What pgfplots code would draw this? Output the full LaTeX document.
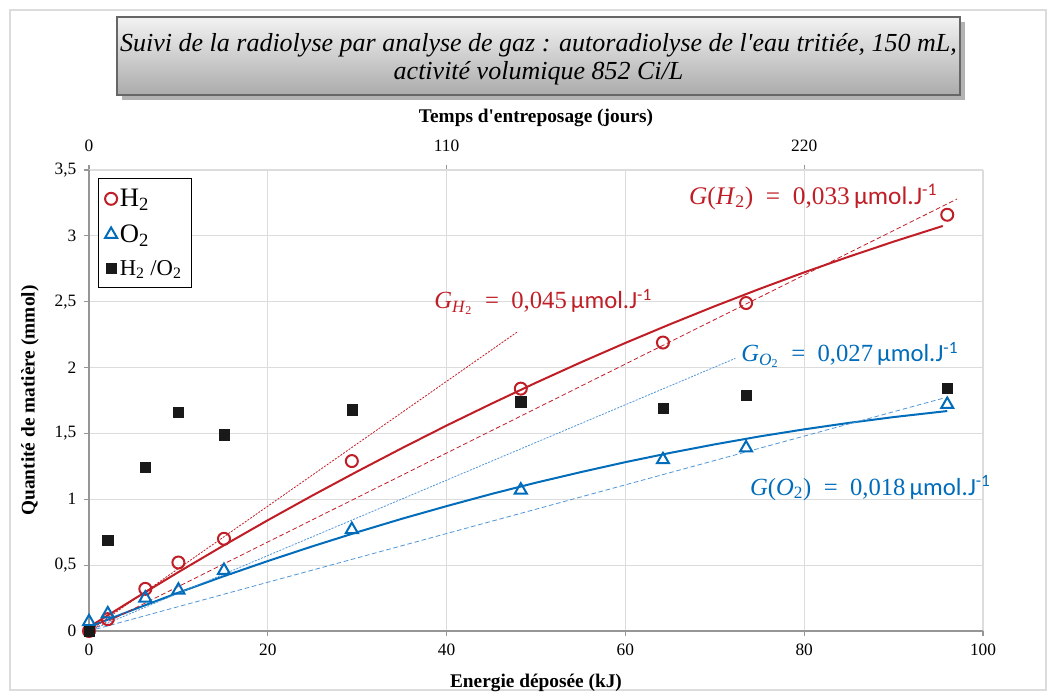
\documentclass[border=0pt]{standalone}
\usepackage{fontspec}
\setmainfont{Liberation Serif}
\newfontfamily\calibri{Carlito}
\usepackage{pgfplots}
\pgfplotsset{compat=1.18}

\definecolor{h2red}{RGB}{192,30,38}
\definecolor{o2blue}{RGB}{0,108,186}
\definecolor{o2light}{RGB}{80,150,215}
\definecolor{gridgray}{RGB}{220,220,220}
\definecolor{axgray}{RGB}{150,150,150}

\newcommand{\unitmu}{{\calibri\,µmol.J\textsuperscript{-1}}}
\newcommand{\gtext}[2]{{\itshape G}#1\enspace=\enspace#2\unitmu}

\begin{document}
\begin{tikzpicture}
% page frame, title box (1 px = 0.75 pt, origin = axis corner)
\begin{scope}[x=0.75pt,y=0.75pt]
\useasboundingbox (-89,-67) rectangle (968,631);
\draw[gridgray, line width=0.8pt] (-79,-59) rectangle (957,621);
\fill[black!30] (33,531) rectangle (876,609);
\shade[top color=white!95!black, bottom color=black!33] (28,536) rectangle (871,614);
\draw[black!60, line width=0.8pt] (28,536) rectangle (871,614);
\node[align=center, font=\itshape\fontsize{19.5}{21}\selectfont] at (449.5,572)
  {Suivi de la radiolyse par analyse de gaz : autoradiolyse de l\textquotesingle eau tritiée, 150 mL,\\
   activité volumique 852 Ci/L};
\end{scope}

% top axis: storage time
\begin{axis}[
  scale only axis, width=670.5pt, height=345.75pt,
  xmin=0, xmax=275, ymin=0, ymax=3.5,
  axis x line*=top, hide y axis,
  xtick={0,110,220},
  axis line style={axgray, line width=0.8pt},
  tick style={axgray, line width=0.8pt}, major tick length=4pt, tick align=outside,
  /pgf/number format/assume math mode=true,
  ticklabel style={font=\fontsize{13}{13}\selectfont},
  xticklabel style={yshift=6pt},
  xlabel={\textbf{Temps d\textquotesingle entreposage (jours)}},
  xlabel style={font=\fontsize{14.5}{15}\selectfont, at={(axis description cs:0.5,1.1128)}, anchor=center},
]
\end{axis}

\begin{axis}[
  scale only axis, width=670.5pt, height=345.75pt,
  xmin=0, xmax=100, ymin=0, ymax=3.5,
  axis x line*=bottom, axis y line*=left,
  xtick={0,20,40,60,80,100},
  ytick={0,0.5,1,1.5,2,2.5,3,3.5},
  grid=major, major grid style={gridgray, line width=0.8pt},
  axis line style={axgray, line width=0.8pt},
  tick style={axgray, line width=0.8pt}, major tick length=4pt, tick align=outside,
  /pgf/number format/use comma,
  /pgf/number format/assume math mode=true,
  ticklabel style={font=\fontsize{13}{13}\selectfont},
  yticklabel style={xshift=-2pt},
  xticklabel style={yshift=-2pt},
  xlabel={\textbf{Energie déposée (kJ)}},
  ylabel={\textbf{Quantité de matière (mmol)}},
  xlabel style={font=\fontsize{14.5}{15}\selectfont, at={(axis description cs:0.5,-0.1128)}, anchor=center},
  ylabel style={font=\fontsize{14.5}{15}\selectfont, at={(axis description cs:-0.066,0.5)}, anchor=center},
  clip=false,
  legend cell align=left,
  legend style={at={(axis description cs:0.0101,0.9826)}, anchor=north west,
    draw=black, line width=0.6pt, fill=white, inner xsep=5pt, inner ysep=6pt,
    row sep=8pt, font=\fontsize{20}{20}\selectfont,
    /tikz/every odd column/.append style={column sep=0pt}},
  legend image code/.code={\draw[#1, only marks] plot coordinates {(0.2cm,0cm)};},
]
% fitted curves
\addplot[h2red, line width=1.5pt, forget plot] coordinates {
  (0,0.030)(5,0.241)(10,0.447)(15,0.647)(20,0.841)(25,1.029)(30,1.211)(35,1.388)
  (40,1.560)(45,1.725)(50,1.885)(55,2.039)(60,2.187)(65,2.329)(70,2.466)
  (75,2.597)(80,2.723)(85,2.842)(90,2.956)(95.5,3.075)};
\addplot[o2blue, line width=1.5pt, forget plot] coordinates {
  (0,0.030)(5,0.163)(10,0.291)(15,0.414)(20,0.531)(25,0.643)(30,0.750)(35,0.852)
  (40,0.948)(45,1.040)(50,1.126)(55,1.206)(60,1.282)(65,1.352)(70,1.417)
  (75,1.477)(80,1.531)(85,1.580)(90,1.624)(96,1.670)};
% initial and overall slopes
\addplot[h2red, line width=0.6pt, dash pattern=on 1.5pt off 1pt, forget plot] coordinates {(0,0)(47.9,2.27)};
\addplot[h2red, line width=0.6pt, dash pattern=on 3.5pt off 2pt, forget plot] coordinates {(0,0)(97.1,3.28)};
\addplot[o2light, line width=0.6pt, dash pattern=on 1.5pt off 1pt, forget plot] coordinates {(0,0)(72.3,2.07)};
\addplot[o2light, line width=0.6pt, dash pattern=on 3.5pt off 2pt, forget plot] coordinates {(0,0)(95.7,1.77)};
% measurements
\addplot[only marks, mark=o, mark size=4.5pt, h2red, line width=1.5pt] coordinates {
  (0,0)(2.1,0.09)(6.3,0.32)(10,0.52)(15.1,0.70)(29.4,1.29)(48.3,1.84)(64.2,2.19)(73.5,2.49)(96,3.16)};
\addplot[only marks, mark=triangle, mark size=5.2pt, o2blue, line width=1.5pt] coordinates {
  (0,0.07)(2.1,0.13)(6.3,0.25)(10,0.31)(15.1,0.46)(29.4,0.77)(48.3,1.07)(64.2,1.30)(73.5,1.39)(96,1.72)};
\addplot[only marks, mark=square*, mark size=3.8pt, black!90] coordinates {
  (0,0)(2.1,0.69)(6.3,1.24)(10,1.66)(15.1,1.49)(29.4,1.68)(48.3,1.74)(64.2,1.69)(73.5,1.79)(96,1.84)};
\legend{H\textsubscript{2}, O\textsubscript{2}, {\fontsize{17}{17}\selectfont H\textsubscript{2} /O\textsubscript{2}}}

\node[h2red, font=\fontsize{19}{19}\selectfont] at (axis cs:81,3.295) {\gtext{(\textit{H}\textsubscript{2})}{0,033}};
\node[h2red, font=\fontsize{18.5}{18.5}\selectfont] at (axis cs:50.8,2.498) {\gtext{\textsubscript{\textit{H}\textsubscript{2}}}{0,045}};
\node[o2blue, font=\fontsize{18.5}{18.5}\selectfont] at (axis cs:85.1,2.095) {\gtext{\textsubscript{\textit{O}\textsubscript{2}}}{0,027}};
\node[o2blue, font=\fontsize{18.5}{18.5}\selectfont] at (axis cs:87.4,1.086) {\gtext{(\textit{O}\textsubscript{2})}{0,018}};
\end{axis}
\end{tikzpicture}
\end{document}
